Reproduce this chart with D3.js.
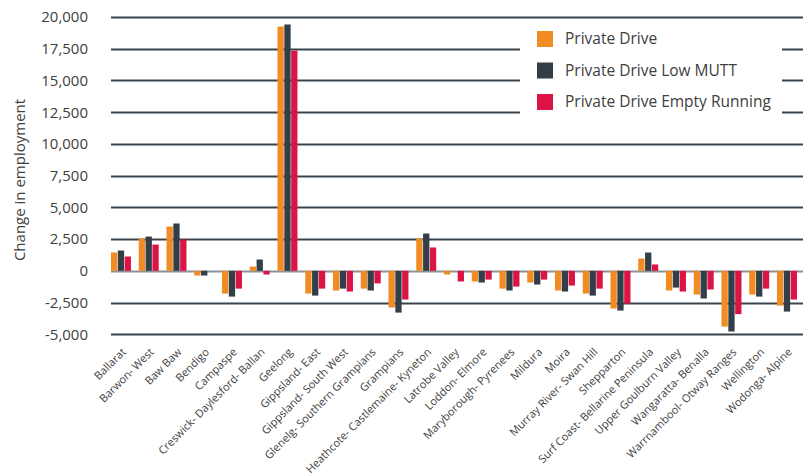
<!DOCTYPE html>
<html><head><meta charset="utf-8">
<script src="https://cdn.jsdelivr.net/npm/d3@7"></script>
<style>
html,body{margin:0;padding:0;background:#fff;}
text{font-family:"Open Sans",sans-serif;fill:#404040;}
</style></head>
<body>
<svg id="chart" width="803" height="476"></svg>
<script>
const categories = ["Ballarat","Barwon- West","Baw Baw","Bendigo","Campaspe","Creswick- Daylesford- Ballan","Geelong","Gippsland- East","Gippsland- South West","Glenelg- Southern Grampians","Grampians","Heathcote- Castlemaine- Kyneton","Latrobe Valley","Loddon- Elmore","Maryborough- Pyrenees","Mildura","Moira","Murray River- Swan Hill","Shepparton","Surf Coast- Bellarine Peninsula","Upper Goulburn Valley","Wangaratta- Benalla","Warrnambool- Otway Ranges","Wellington","Wodonga- Alpine"];
const seriesNames = ["Private Drive","Private Drive Low MUTT","Private Drive Empty Running"];
const privateDrive = [1450,2550,3490,-370,-1790,340,19250,-1790,-1550,-1400,-2890,2545,-290,-840,-1400,-920,-1550,-1790,-2970,970,-1550,-1870,-4390,-1870,-2740];
const privateDriveLowMUTT = [1600,2700,3730,-370,-2030,890,19410,-1950,-1400,-1550,-3290,2940,0,-920,-1550,-1080,-1630,-1950,-3130,1440,-1320,-2180,-4780,-2030,-3210];
const privateDriveEmptyRunning = [1130,2070,2470,0,-1400,-290,17350,-1400,-1630,-990,-2260,1840,-840,-690,-1240,-690,-1160,-1400,-2580,500,-1630,-1470,-3410,-1400,-2260];
const yTicks = [-5000,-2500,0,2500,5000,7500,10000,12500,15000,17500,20000];
const colors = ["#F08C23","#323E48","#DC1446"];

const series = [privateDrive, privateDriveLowMUTT, privateDriveEmptyRunning];
const svg = d3.select("#chart");

const x = d3.scaleBand().domain(categories).range([107.1, 800.85]).paddingInner(0.28).paddingOuter(0.14);
const xs = d3.scaleBand().domain(d3.range(3)).range([0, x.bandwidth()]).paddingInner(0.08);
const y = d3.scaleLinear().domain([-5000, 20000]).range([334.3, 17]);

// gridlines
const grid = svg.append("g");
grid.selectAll("line").data(yTicks).join("line")
  .attr("x1", 111).attr("x2", 803)
  .attr("y1", d => Math.round(y(d)) + 0.5).attr("y2", d => Math.round(y(d)) + 0.5)
  .attr("stroke", d => d === 0 ? "#8a9197" : "#3a444d")
  .attr("stroke-width", d => d === 0 ? 2.2 : 2);

// y tick labels
const fmt = d3.format(",");
const yAxis = d3.axisLeft(y).tickValues(yTicks).tickSize(0).tickPadding(0).tickFormat(d => fmt(d).replace("\u2212", "-"));
const ya = svg.append("g").attr("transform", "translate(88,0)").call(yAxis);
ya.select(".domain").remove();
ya.selectAll("text").style("font-family", '"Open Sans",sans-serif').style("font-size", "15px").attr("fill", "#404040");

// y title
svg.append("text").attr("transform", "translate(25,180) rotate(-90)")
  .attr("text-anchor", "middle").style("font-size", "15px").text("Change in employment");

// bars
const groups = svg.append("g").selectAll("g").data(categories).join("g")
  .attr("transform", d => `translate(${x(d)},0)`);
groups.selectAll("rect").data((d, i) => series.map((s, k) => ({k, v: s[i]}))).join("rect")
  .attr("x", d => xs(d.k)).attr("width", xs.bandwidth())
  .attr("y", d => y(Math.max(0, d.v)))
  .attr("height", d => Math.abs(y(d.v) - y(0)))
  .attr("fill", d => colors[d.k]);

// x labels
const xAxis = d3.axisBottom(x).tickSize(0).tickPadding(0);
const xa = svg.append("g").attr("transform", "translate(0,342)").call(xAxis);
xa.select(".domain").remove();
xa.selectAll("text")
  .style("font-family", '"Open Sans",sans-serif').style("font-size", "11px").attr("fill", "#404040")
  .attr("text-anchor", "end").attr("y", 0).attr("dy", "0.35em")
  .attr("transform", "translate(3,8) rotate(-45)");

// legend
const lg = svg.append("g");
lg.append("rect").attr("x", 520).attr("y", 21).attr("width", 262).attr("height", 104).attr("fill", "#fff");
const items = lg.selectAll("g.item").data(seriesNames).join("g").attr("class", "item")
  .attr("transform", (d, i) => `translate(537,${31 + i * 31.5})`);
items.append("rect").attr("width", 16).attr("height", 16).attr("fill", (d, i) => colors[i]);
items.append("text").attr("x", 28).attr("y", 8).attr("dy", "0.35em").style("font-size", "15.5px").text(d => d);
</script>
</body></html>
